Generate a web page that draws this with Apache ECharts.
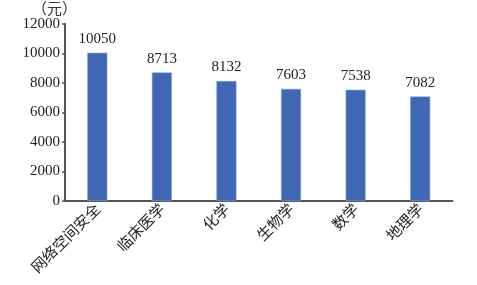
<!DOCTYPE html>
<html><head><meta charset="utf-8">
<script src="https://cdn.jsdelivr.net/npm/echarts@6/dist/echarts.min.js"></script>
<style>html,body{margin:0;padding:0;background:#fff}#c{width:477px;height:285px}</style>
</head><body><div id="c"></div>
<script>
var categories = ['网络空间安全', '临床医学', '化学', '生物学', '数学', '地理学'];
var values = [10050, 8713, 8132, 7603, 7538, 7082];
var unitLabel = '（元）';

var chart = echarts.init(document.getElementById('c'), null, {renderer: 'canvas'});
chart.setOption({
  animation: false,
  backgroundColor: '#fff',
  grid: {left: 65, right: 24.5, top: 24, bottom: 84, containLabel: false},
  graphic: [{
    type: 'text', left: 32, top: 1,
    style: {text: unitLabel, font: '15px "Noto Sans CJK SC"', fill: '#333'}
  }],
  xAxis: {
    type: 'category',
    data: categories,
    axisLine: {lineStyle: {color: '#555', width: 2}},
    axisTick: {show: false},
    axisLabel: {
      rotate: 45, margin: 5, interval: 0,
      fontFamily: '"Noto Sans CJK SC"', fontSize: 15, color: '#222'
    }
  },
  yAxis: {
    type: 'value', min: 0, max: 12000, interval: 2000,
    axisLine: {show: true, lineStyle: {color: '#555', width: 2}},
    axisTick: {show: true, length: 3, lineStyle: {color: '#555', width: 1.5}},
    splitLine: {show: false},
    axisLabel: {
      margin: 5, fontFamily: '"Liberation Serif"', fontSize: 15, color: '#222',
      formatter: function (v) { return String(v); }
    }
  },
  series: [{
    type: 'bar',
    data: values,
    barWidth: 20,
    itemStyle: {color: '#3f67b3', borderColor: '#7f9fd6', borderWidth: 0.6},
    label: {
      show: true, position: 'top', distance: 6,
      fontFamily: '"Liberation Serif"', fontSize: 15, color: '#222'
    }
  }]
});
</script></body></html>
